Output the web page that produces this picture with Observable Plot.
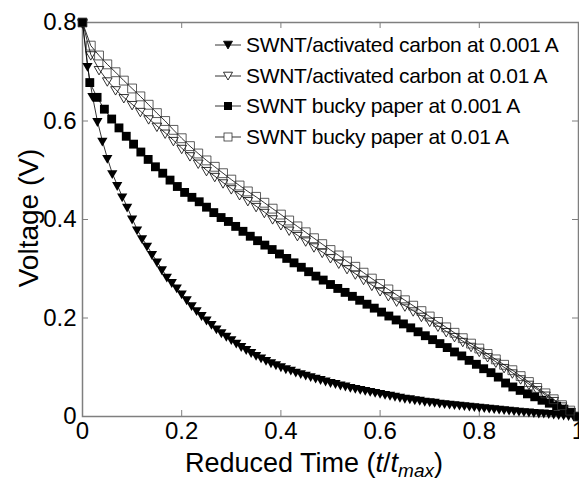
<!DOCTYPE html>
<html>
<head>
<meta charset="utf-8">
<script src="https://cdn.jsdelivr.net/npm/d3@7"></script>
<script src="https://cdn.jsdelivr.net/npm/@observablehq/plot@0.6"></script>
<style>
  body { margin: 0; background: #fff; font-family: "Liberation Sans", Arial, Helvetica, sans-serif; }
  #wrap { position: relative; width: 579px; height: 485px; overflow: hidden; background: #fff; }
  #chart { position: absolute; left: 0; top: 0; }
  #legend { position: absolute; left: 213px; top: 29.6px; font-size: 21px; letter-spacing: -0.3px; color: #000; }
  .row { display: flex; align-items: center; height: 30.7px; white-space: nowrap; }
  .row svg { display: block; margin-right: 3px; }
  #xlabel { position: absolute; left: 66px; width: 496px; top: 448px; text-align: center; font-size: 27px; color: #000; }
  #xlabel sub { font-size: 19px; vertical-align: -5px; }
  #ylabel { position: absolute; left: 29px; top: 218px; transform: translate(-50%, -50%) rotate(-90deg); font-size: 28px; white-space: nowrap; color: #000; }
</style>
</head>
<body>
<div id="wrap">
  <div id="chart"></div>
  <div id="legend"></div>
  <div id="xlabel">Reduced Time (<i>t</i>/<i>t</i><sub><i>max</i></sub>)</div>
  <div id="ylabel">Voltage (V)</div>
</div>
<script>
// ---- Data (voltage values; reduced time evenly spaced 0..1) ----
const seriesNames = [
  "SWNT/activated carbon at 0.001 A",
  "SWNT/activated carbon at 0.01 A",
  "SWNT bucky paper at 0.001 A",
  "SWNT bucky paper at 0.01 A"
];

// SWNT/activated carbon at 0.001 A (101 points)
const vAC001 = [0.800,0.712,0.651,0.600,0.560,0.525,0.494,0.470,0.447,0.426,
  0.402,0.380,0.362,0.347,0.330,0.315,0.299,0.284,0.273,0.262,
  0.250,0.238,0.226,0.216,0.206,0.197,0.188,0.179,0.171,0.164,
  0.157,0.150,0.143,0.137,0.131,0.125,0.120,0.115,0.110,0.106,
  0.102,0.098,0.095,0.091,0.088,0.085,0.082,0.079,0.076,0.073,
  0.070,0.068,0.065,0.063,0.060,0.058,0.056,0.054,0.052,0.050,
  0.048,0.046,0.044,0.042,0.040,0.038,0.037,0.035,0.034,0.032,
  0.031,0.030,0.028,0.027,0.026,0.025,0.024,0.023,0.022,0.021,
  0.020,0.019,0.018,0.017,0.016,0.015,0.014,0.013,0.012,0.011,
  0.010,0.009,0.008,0.008,0.007,0.006,0.005,0.004,0.003,0.002,0.000];

// SWNT/activated carbon at 0.01 A (61 points)
const vAC01 = [0.800,0.735,0.705,0.682,0.664,0.648,0.634,0.620,0.605,0.590,
  0.576,0.561,0.545,0.530,0.515,0.500,0.488,0.475,0.463,0.451,
  0.439,0.427,0.415,0.402,0.390,0.379,0.368,0.357,0.345,0.334,
  0.323,0.312,0.301,0.290,0.279,0.267,0.256,0.246,0.235,0.225,
  0.215,0.204,0.194,0.184,0.173,0.163,0.153,0.143,0.133,0.122,
  0.111,0.100,0.089,0.077,0.066,0.055,0.044,0.033,0.022,0.011,0.000];

// SWNT bucky paper at 0.001 A (69 points)
const vBP001 = [0.800,0.678,0.648,0.624,0.604,0.586,0.569,0.553,0.537,0.522,
  0.507,0.494,0.480,0.467,0.455,0.445,0.436,0.425,0.414,0.404,
  0.396,0.386,0.376,0.366,0.357,0.348,0.339,0.330,0.321,0.312,
  0.303,0.294,0.285,0.277,0.268,0.260,0.252,0.244,0.236,0.228,
  0.220,0.212,0.204,0.196,0.188,0.180,0.172,0.164,0.156,0.148,
  0.140,0.131,0.123,0.114,0.106,0.097,0.089,0.080,0.068,0.060,
  0.053,0.046,0.040,0.033,0.027,0.021,0.015,0.008,0.000];

// SWNT bucky paper at 0.01 A (61 points)
const vBP01 = [0.800,0.753,0.733,0.715,0.699,0.682,0.666,0.650,0.633,0.616,
  0.600,0.582,0.565,0.549,0.534,0.520,0.507,0.494,0.481,0.469,
  0.457,0.446,0.434,0.422,0.410,0.398,0.386,0.374,0.362,0.350,
  0.338,0.327,0.315,0.304,0.292,0.280,0.269,0.258,0.247,0.236,
  0.225,0.214,0.203,0.192,0.181,0.170,0.159,0.148,0.138,0.127,
  0.116,0.105,0.094,0.082,0.070,0.058,0.047,0.035,0.023,0.012,0.000];

const xTicks = [0, 0.2, 0.4, 0.6, 0.8, 1];
const yTicks = [0, 0.2, 0.4, 0.6, 0.8];

// ---- build tables ----
const toRows = (vals) => vals.map((v, i) => ({t: i / (vals.length - 1), v}));
const dAC001 = toRows(vAC001), dAC01 = toRows(vAC01), dBP001 = toRows(vBP001), dBP01 = toRows(vBP01);

// downward triangle symbol
const sqrt3 = Math.sqrt(3);
const triangleDown = {
  draw(context, size) {
    const y = Math.sqrt(size / (sqrt3 * 3));
    context.moveTo(0, y * 2);
    context.lineTo(-sqrt3 * y, -y);
    context.lineTo(sqrt3 * y, -y);
    context.closePath();
  }
};

const W = 579, H = 448, mL = 82, mR = 1, mT = 22, mB = 32;
const innerW = W - mL - mR, innerH = H - mT - mB, tk = 6;
const axisGray = "#7f7f7f";
const fmt = d => String(+d.toFixed(1));

const lineOpts = {x: "t", y: "v", stroke: "black", strokeWidth: 0.8};

const chart = Plot.plot({
  width: W, height: H,
  marginLeft: mL, marginRight: mR, marginTop: mT, marginBottom: mB,
  x: {domain: [0, 1]},
  y: {domain: [0, 0.8]},
  style: {fontFamily: "'Liberation Sans', Arial, Helvetica, sans-serif", background: "white", color: "black", overflow: "visible"},
  marks: [
    // inward ticks on all four sides
    Plot.tickX(xTicks, {x: d => d, stroke: axisGray, insetTop: innerH - tk}),
    Plot.tickX(xTicks, {x: d => d, stroke: axisGray, insetBottom: innerH - tk}),
    Plot.tickY(yTicks, {y: d => d, stroke: axisGray, insetRight: innerW - tk}),
    Plot.tickY(yTicks, {y: d => d, stroke: axisGray, insetLeft: innerW - tk}),
    Plot.frame({stroke: axisGray, strokeWidth: 1.5}),
    Plot.axisX({ticks: xTicks, tickSize: 0, tickPadding: 5, fontSize: 24, tickFormat: fmt, label: null}),
    Plot.axisY({ticks: yTicks, tickSize: 0, tickPadding: 6, fontSize: 24, tickFormat: fmt, label: null}),
    // series
    Plot.line(dAC001, lineOpts),
    Plot.dot(dAC001, {x: "t", y: "v", symbol: triangleDown, r: 3.8, fill: "black", stroke: "none"}),
    Plot.line(dAC01, lineOpts),
    Plot.dot(dAC01, {x: "t", y: "v", symbol: triangleDown, r: 3.6, fill: "none", stroke: "black", strokeWidth: 0.8}),
    Plot.line(dBP001, lineOpts),
    Plot.dot(dBP001, {x: "t", y: "v", symbol: "square", r: 5, fill: "black", stroke: "none"}),
    Plot.line(dBP01, lineOpts),
    Plot.dot(dBP01, {x: "t", y: "v", symbol: "square", r: 5, fill: "none", stroke: "#333", strokeWidth: 0.8})
  ]
});
document.getElementById("chart").appendChild(chart);

// ---- legend (HTML) ----
const legendSymbols = [
  {kind: "tri", fill: "black"},
  {kind: "tri", fill: "none"},
  {kind: "sq", fill: "black"},
  {kind: "sq", fill: "none"}
];
const legend = document.getElementById("legend");
seriesNames.forEach((name, i) => {
  const s = legendSymbols[i];
  const row = document.createElement("div");
  row.className = "row";
  let mark;
  if (s.kind === "tri") {
    mark = `<path d="M15,14 L10.5,6.2 L19.5,6.2 Z" fill="${s.fill === "none" ? "white" : "black"}" stroke="black" stroke-width="0.8"/>`;
  } else {
    mark = `<rect x="11" y="6" width="8" height="8" fill="${s.fill === "none" ? "white" : "black"}" stroke="${s.fill === "none" ? "#333" : "none"}" stroke-width="0.8"/>`;
  }
  row.innerHTML = `<svg width="30" height="20" viewBox="0 0 30 20"><line x1="2" y1="10" x2="28" y2="10" stroke="black" stroke-width="0.8"/>${mark}</svg><span>${name}</span>`;
  legend.appendChild(row);
});
</script>
</body>
</html>
